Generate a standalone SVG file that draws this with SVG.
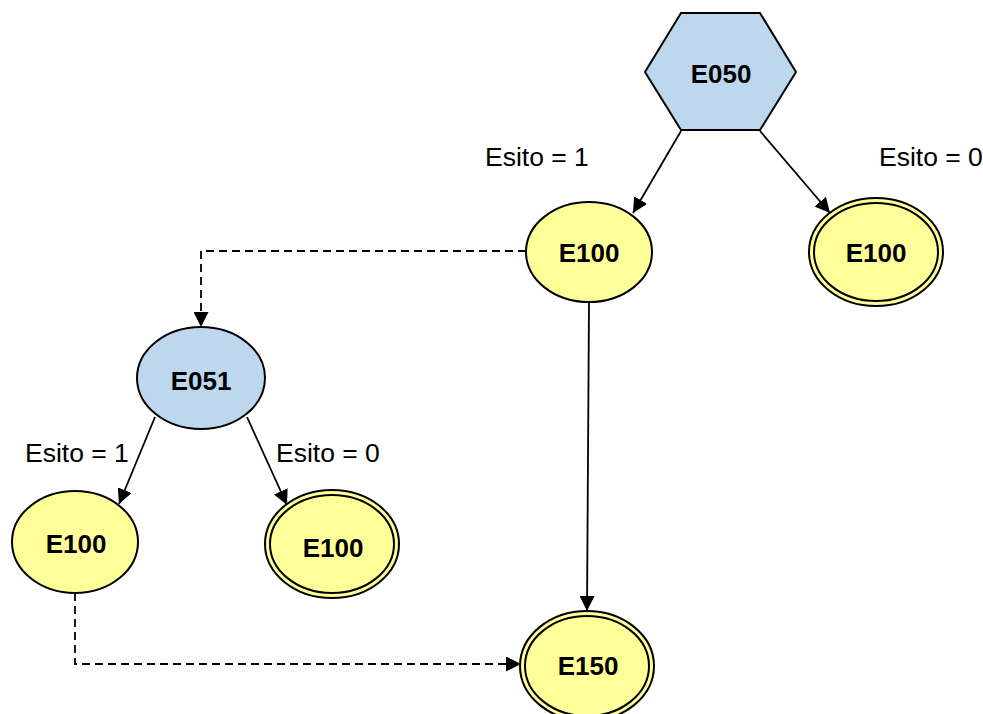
<svg xmlns="http://www.w3.org/2000/svg" width="983" height="714" viewBox="0 0 983 714">
<style>
.lbl{font-family:"Liberation Sans",Arial,sans-serif;font-size:26px;font-weight:bold;fill:#000;text-anchor:middle}
.edge{font-family:"Liberation Sans",Arial,sans-serif;font-size:26.5px;fill:#000}
.yel{fill:#FFFF99;stroke:#000;stroke-width:2}
.blu{fill:#BDD7EE;stroke:#000;stroke-width:2}
.inner{fill:none;stroke:#000;stroke-width:2}
.ln{fill:none;stroke:#000;stroke-width:1.8}
.dash{stroke-dasharray:8 5}
</style>
<defs>
<marker id="ah" markerUnits="userSpaceOnUse" markerWidth="15" markerHeight="15" refX="15" refY="7.5" orient="auto">
<path d="M0,0 L15,7.5 L0,15 z" fill="#000"/>
</marker>
</defs>
<g id="connectors">
<line class="ln" x1="681" y1="131" x2="633" y2="213" marker-end="url(#ah)"/>
<line class="ln" x1="760" y1="131" x2="830" y2="213" marker-end="url(#ah)"/>
<polyline class="ln dash" points="526,251 201,251 201,327" marker-end="url(#ah)"/>
<line class="ln" x1="589" y1="303" x2="587" y2="611" marker-end="url(#ah)"/>
<line class="ln" x1="155" y1="417" x2="119" y2="504" marker-end="url(#ah)"/>
<line class="ln" x1="247" y1="417" x2="287" y2="505" marker-end="url(#ah)"/>
<polyline class="ln dash" points="75,593 75,664 521,664" marker-end="url(#ah)"/>
</g>
<g id="edge-labels">
<text class="edge" x="485" y="166">Esito = 1</text>
<text class="edge" x="879" y="166">Esito = 0</text>
<text class="edge" x="25" y="462">Esito = 1</text>
<text class="edge" x="276" y="462">Esito = 0</text>
</g>
<g id="E050">
<polygon class="blu" points="681,13 760,13 796,72 760,130 681,130 645,72"/>
<text class="lbl" x="721" y="83">E050</text>
</g>
<g id="E100_a">
<ellipse class="yel" cx="589" cy="252" rx="63" ry="50"/>
<text class="lbl" x="589" y="262">E100</text>
</g>
<g id="E100_b">
<ellipse class="yel" cx="876" cy="252" rx="67" ry="54"/>
<ellipse class="inner" cx="876" cy="252" rx="62" ry="49"/>
<text class="lbl" x="876" y="262">E100</text>
</g>
<g id="E051">
<ellipse class="blu" cx="201" cy="378" rx="64" ry="51"/>
<text class="lbl" x="201" y="390">E051</text>
</g>
<g id="E100_c">
<ellipse class="yel" cx="75" cy="542" rx="63" ry="51"/>
<text class="lbl" x="76" y="553">E100</text>
</g>
<g id="E100_d">
<ellipse class="yel" cx="332" cy="544" rx="67" ry="54"/>
<ellipse class="inner" cx="332" cy="544" rx="62" ry="49"/>
<text class="lbl" x="333" y="557">E100</text>
</g>
<g id="E150">
<ellipse class="yel" cx="587" cy="666" rx="67" ry="55"/>
<ellipse class="inner" cx="587" cy="666" rx="62" ry="50"/>
<text class="lbl" x="588" y="675">E150</text>
</g>
</svg>
